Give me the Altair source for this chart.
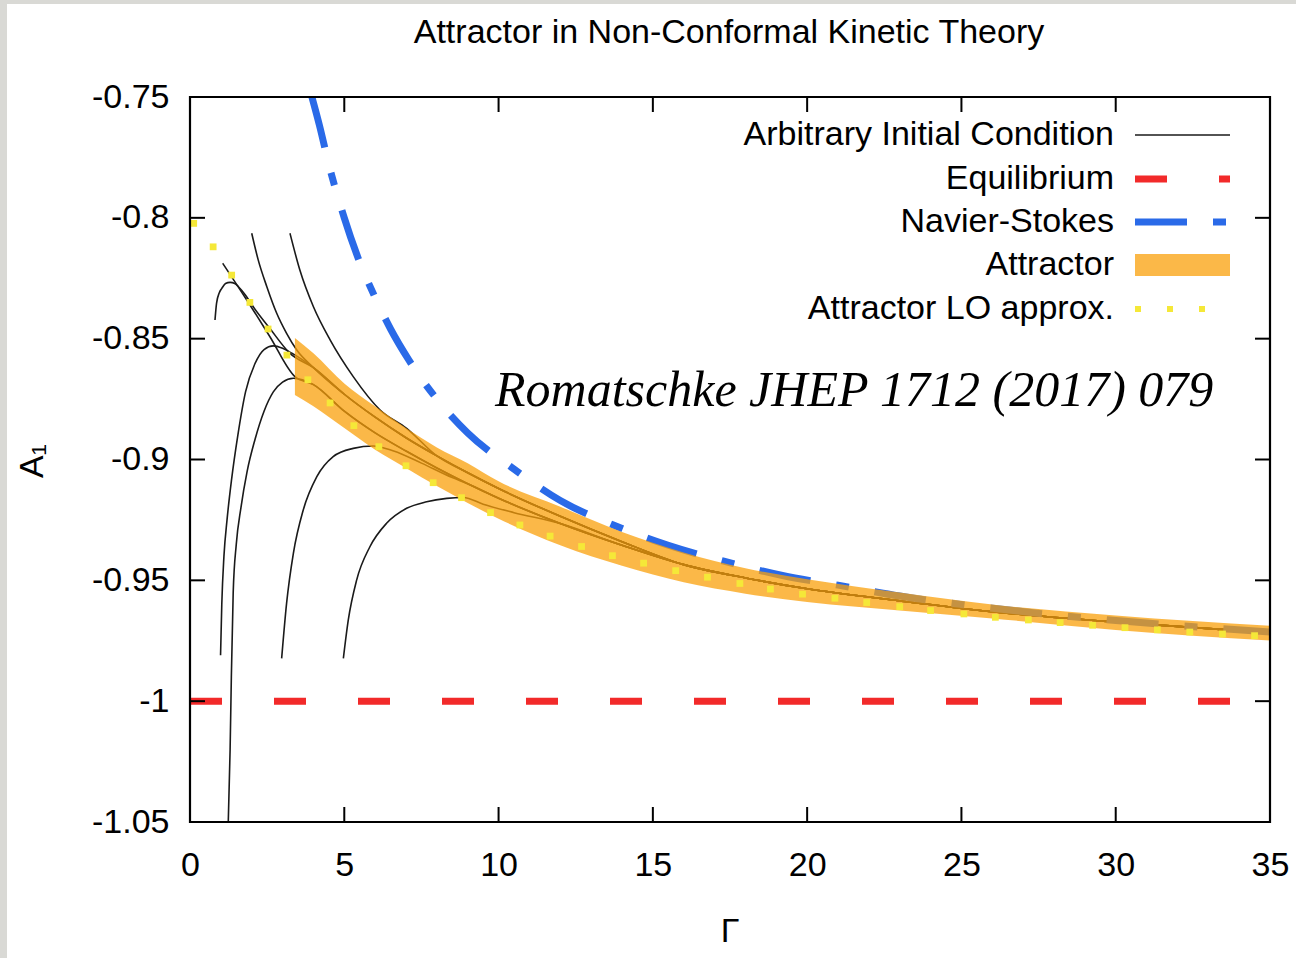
import altair as alt
import pandas as pd

# ---------------- data ----------------
x_ticks = [0, 5, 10, 15, 20, 25, 30, 35]
y_ticks = [-1.05, -1.0, -0.95, -0.9, -0.85, -0.8, -0.75]

# Attractor band (lower / upper edge)
band_G = [3.4, 4, 5, 6, 7, 8, 9, 10, 12, 14, 16, 18, 20, 23, 26, 30, 35]
band_upper = [-0.8497, -0.856, -0.8685, -0.878, -0.887, -0.895, -0.9015, -0.909, -0.9195,
              -0.930, -0.9385, -0.945, -0.9495, -0.955, -0.960, -0.9645, -0.9688]
band_lower = [-0.8733, -0.878, -0.887, -0.896, -0.9035, -0.911, -0.918, -0.9245, -0.9355,
              -0.944, -0.9508, -0.9555, -0.959, -0.9625, -0.9658, -0.9705, -0.9749]

# Navier-Stokes
ns_G = [3.95, 4.2, 4.5, 5.0, 5.4, 6.0, 6.5, 7.1, 8.0, 9.0, 10.5, 12.0, 13.7, 15.5, 17.3,
        19.2, 21.0, 23.0, 25.0, 28.0, 31.0, 35.0]
ns_A = [-0.75, -0.762, -0.778, -0.800, -0.815, -0.833, -0.846, -0.859, -0.875, -0.889,
        -0.904, -0.917, -0.927, -0.9355, -0.9421, -0.948, -0.952, -0.9565, -0.960,
        -0.9643, -0.9677, -0.9714]

# Equilibrium
eq_G = [0.0, 35.0]
eq_A = [-1.0, -1.0]

# Attractor LO approx. (dots)
lo_G = [0.12, 0.75, 1.35, 1.94, 2.53, 3.14, 3.82, 4.54, 5.31, 6.12, 7.0, 7.88, 8.8, 9.74,
        10.69, 11.67, 12.69, 13.69, 14.7, 15.74, 16.77, 17.82, 18.81, 19.85, 20.9, 21.93,
        23.0, 24.0, 25.08, 26.1, 27.17, 28.2, 29.25, 30.3, 31.35, 32.4, 33.46, 34.5]
lo_A = [-0.8023, -0.812, -0.8237, -0.835, -0.846, -0.8568, -0.867, -0.8766, -0.886, -0.8947,
        -0.9026, -0.9096, -0.9158, -0.922, -0.9271, -0.9317, -0.936, -0.9398, -0.9429,
        -0.946, -0.9487, -0.9513, -0.9536, -0.9557, -0.9574, -0.9592, -0.9609, -0.9625,
        -0.9639, -0.9653, -0.9664, -0.9675, -0.9686, -0.9696, -0.9705, -0.9714, -0.9722,
        -0.9729]

# Arbitrary initial conditions: individual heads
T_G = [0.81, 0.86, 0.95, 1.03, 1.15, 1.30, 1.45, 1.57, 1.8, 2.05, 2.59, 3.24]
T_A = [-0.8423, -0.8354, -0.831, -0.8292, -0.8272, -0.8267, -0.8272, -0.8285, -0.832,
       -0.8368, -0.8458, -0.8561]
U_G = [1.06, 1.84, 2.59, 3.4]
U_A = [-0.8188, -0.834, -0.8492, -0.8657]
V_G = [2.0, 2.21, 2.49, 2.81, 3.13, 3.46]
V_A = [-0.8064, -0.8174, -0.8285, -0.8395, -0.8478, -0.8547]
W_G = [3.24, 3.56, 4.0, 4.54, 5.29, 6.16, 7.02]
W_A = [-0.8064, -0.8216, -0.8368, -0.8505, -0.8657, -0.8795, -0.8871]
Q_G = [0.99, 1.03, 1.10, 1.20, 1.35, 1.55, 1.8, 2.1, 2.4, 2.7, 3.0, 3.3]
Q_A = [-0.981, -0.96, -0.94, -0.925, -0.908, -0.89, -0.872, -0.8605, -0.8545, -0.853,
       -0.854, -0.856]
P_G = [1.24, 1.30, 1.34, 1.40, 1.50, 1.65, 1.85, 2.1, 2.4, 2.7, 3.0, 3.35]
P_A = [-1.05, -1.02, -0.99, -0.955, -0.935, -0.92, -0.905, -0.892, -0.880, -0.872, -0.868,
       -0.8664]
R_G = [2.97, 3.13, 3.35, 3.67, 4.11, 4.64, 5.29, 5.94, 6.6, 7.5, 8.5]
R_A = [-0.9823, -0.9595, -0.9388, -0.9209, -0.9071, -0.8988, -0.8954, -0.8944, -0.8965,
       -0.9015, -0.9075]
S_G = [4.97, 5.13, 5.40, 5.83, 6.37, 7.02, 7.67, 8.32, 8.86, 9.5, 10.5]
S_A = [-0.9823, -0.9664, -0.9499, -0.9361, -0.9264, -0.9202, -0.9175, -0.9161, -0.9157,
       -0.9185, -0.922]

# where the curves run inside the attractor band
tail_hi_G = [4.0, 5.0, 6.0, 7.0, 8.0, 9.0, 10.0, 12.0, 14.0]
tail_hi_A = [-0.862, -0.873, -0.8825, -0.891, -0.8985, -0.9055, -0.912, -0.9235, -0.934]
tail_lo_G = [4.0, 5.0, 6.0, 7.0, 8.0, 9.0, 10.0, 12.0, 14.0]
tail_lo_A = [-0.869, -0.880, -0.889, -0.8965, -0.9035, -0.910, -0.916, -0.9265, -0.9355]
tail_common_G = [16.0, 18.0, 20.0, 23.0, 26.0, 30.0, 35.0]
tail_common_A = [-0.9435, -0.949, -0.9535, -0.9585, -0.963, -0.9673, -0.9717]

legend_labels = ["Arbitrary Initial Condition", "Equilibrium", "Navier-Stokes",
                 "Attractor", "Attractor LO approx."]

# ---------------- build tables ----------------
FONT = "Liberation Sans"
W, H = 1080, 725
BLACK = "#1a1a1a"
RED = "#f22a2a"
BLUE = "#2a6ae8"
ORANGE = "#faa00b"
YELLOW = "#f5e838"

rows = []
def add_curve(name, hg, ha, tg, ta):
    pts = list(zip(hg, ha))
    last = hg[-1]
    pts += [(g, a) for g, a in zip(tg, ta) if g > last + 0.45]
    for i, (g, a) in enumerate(pts):
        rows.append({"curve": name, "idx": i, "G": g, "A": a})

hiG = tail_hi_G + tail_common_G
hiA = tail_hi_A + tail_common_A
loG = tail_lo_G + tail_common_G
loA = tail_lo_A + tail_common_A
add_curve("T", T_G, T_A, hiG, hiA)
add_curve("U", U_G, U_A, loG, loA)
add_curve("V", V_G, V_A, hiG, hiA)
add_curve("W", W_G, W_A, hiG, hiA)
add_curve("Q", Q_G, Q_A, hiG, hiA)
add_curve("P", P_G, P_A, loG, loA)
add_curve("R", R_G, R_A, loG, loA)
add_curve("S", S_G, S_A, loG, loA)
curves_df = pd.DataFrame(rows)

band_df = pd.DataFrame({"G": band_G, "lo": band_lower, "hi": band_upper})
ns_df = pd.DataFrame({"G": ns_G, "A": ns_A})
eq_df = pd.DataFrame({"G": eq_G, "A": eq_A})
lo_df = pd.DataFrame({"G": lo_G, "A": lo_A})
xt_df = pd.DataFrame({"v": x_ticks})
yt_df = pd.DataFrame({"v": y_ticks})
one = pd.DataFrame({"k": [0]})

xs = alt.Scale(domain=[0, 35], nice=False, zero=False)
ys = alt.Scale(domain=[-1.05, -0.75], nice=False, zero=False)
xaxis = alt.Axis(values=x_ticks, title=None, grid=False, domain=False, ticks=False,
                 tickSize=0, labelFont=FONT, labelFontSize=34, labelColor="black",
                 labelPadding=26, labelFlush=False, labelOverlap=False, zindex=2)
yaxis = alt.Axis(values=y_ticks, title=None, grid=False, domain=False, ticks=False,
                 tickSize=0, labelFont=FONT, labelFontSize=34, labelColor="black",
                 labelPadding=21, labelFlush=False, labelOverlap=False, zindex=2,
                 labelExpr="datum.value + ''")

def X(f):
    return alt.X(f, type="quantitative", scale=xs, axis=xaxis)

def Y(f):
    return alt.Y(f, type="quantitative", scale=ys, axis=yaxis)

layers = []
# white card on grey page
layers.append(alt.Chart(one).mark_rect(color="white").encode(
    x=alt.value(-183), x2=alt.value(1106), y=alt.value(-93), y2=alt.value(861)))

layers.append(alt.Chart(curves_df).mark_line(color=BLACK, strokeWidth=1.6,
                                             interpolate="monotone", clip=True).encode(
    x=X("G"), y=Y("A"), detail="curve:N", order="idx:Q"))

layers.append(alt.Chart(ns_df).mark_line(color=BLUE, strokeWidth=7, strokeDash=[52, 26, 13, 26],
                                         strokeCap="butt", interpolate="monotone", clip=True).encode(
    x=X("G"), y=Y("A")))

layers.append(alt.Chart(eq_df).mark_line(color=RED, strokeWidth=7, strokeDash=[32, 52],
                                         strokeCap="butt", clip=True).encode(
    x=X("G"), y=Y("A")))

layers.append(alt.Chart(band_df).mark_area(color=ORANGE, opacity=0.75,
                                           interpolate="monotone", clip=True).encode(
    x=X("G"), y=Y("lo"), y2="hi"))

layers.append(alt.Chart(lo_df).mark_square(color=YELLOW, size=46, opacity=1, clip=True).encode(
    x=X("G"), y=Y("A")))

# inward tick marks on all four sides
TL = 15
layers.append(alt.Chart(xt_df).mark_rule(color="black", strokeWidth=2).encode(
    x=X("v"), y=alt.value(H), y2=alt.value(H - TL)))
layers.append(alt.Chart(xt_df).mark_rule(color="black", strokeWidth=2).encode(
    x=X("v"), y=alt.value(0), y2=alt.value(TL)))
layers.append(alt.Chart(yt_df).mark_rule(color="black", strokeWidth=2).encode(
    y=Y("v"), x=alt.value(0), x2=alt.value(TL)))
layers.append(alt.Chart(yt_df).mark_rule(color="black", strokeWidth=2).encode(
    y=Y("v"), x=alt.value(W), x2=alt.value(W - TL)))

# frame
layers.append(alt.Chart(one).mark_rect(fill="transparent", stroke="black", strokeWidth=2.2).encode(
    x=alt.value(0), x2=alt.value(W), y=alt.value(0), y2=alt.value(H)))

# texts
def txt(text, x, y, size=34, align="center", baseline="alphabetic", angle=0,
        font=FONT, style="normal"):
    return alt.Chart(one).mark_text(text=text, fontSize=size, font=font, align=align,
                                    baseline=baseline, angle=angle, color="black",
                                    fontStyle=style).encode(x=alt.value(x), y=alt.value(y))

layers.append(txt("Attractor in Non-Conformal Kinetic Theory", 539, -54))
layers.append(txt("Γ", 540, 845))
layers.append(txt("A₁", -147, 364, angle=270))
layers.append(txt("Romatschke JHEP 1712 (2017) 079", 305, 309, size=50, align="left",
                  font="Liberation Serif", style="italic"))

# legend
leg_y = [38, 82, 125, 168, 212]
for lab, ly in zip(legend_labels, leg_y):
    layers.append(txt(lab, 924, ly, align="right", baseline="middle"))
layers.append(alt.Chart(one).mark_rule(color=BLACK, strokeWidth=1.6).encode(
    x=alt.value(945), x2=alt.value(1040), y=alt.value(leg_y[0])))
layers.append(alt.Chart(one).mark_rule(color=RED, strokeWidth=7, strokeDash=[32, 52],
                                       strokeCap="butt").encode(
    x=alt.value(945), x2=alt.value(1040), y=alt.value(leg_y[1])))
layers.append(alt.Chart(one).mark_rule(color=BLUE, strokeWidth=7, strokeDash=[52, 26, 13, 26],
                                       strokeCap="butt").encode(
    x=alt.value(945), x2=alt.value(1040), y=alt.value(leg_y[2])))
layers.append(alt.Chart(one).mark_rect(color=ORANGE, opacity=0.75).encode(
    x=alt.value(945), x2=alt.value(1040), y=alt.value(leg_y[3] - 11), y2=alt.value(leg_y[3] + 11)))
layers.append(alt.Chart(one).mark_rule(color=YELLOW, strokeWidth=6, strokeDash=[6, 26],
                                       strokeCap="butt").encode(
    x=alt.value(945), x2=alt.value(1020), y=alt.value(leg_y[4])))

chart = alt.layer(*layers).properties(
    width=W, height=H,
    padding={"left": 190, "top": 97, "right": 26, "bottom": 136},
    autosize=alt.AutoSizeParams(type="none"),
    background="#d9d9d5",
).configure_view(strokeWidth=0)

chart.save("out.html", embed_options={"renderer": "svg", "actions": False})
